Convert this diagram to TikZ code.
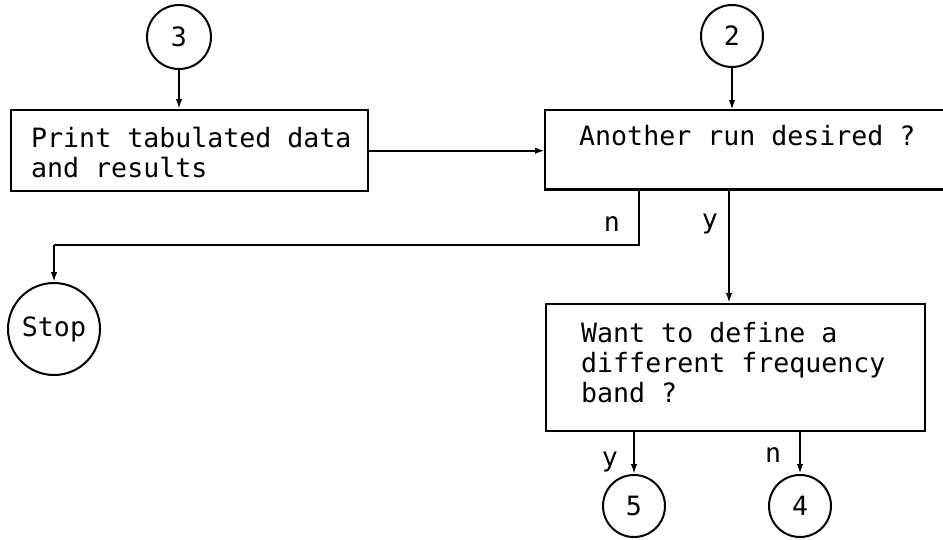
\documentclass[tikz,border=0pt]{standalone}
\usepackage{fontspec}
\newfontfamily\flowfont{DejaVu Sans Mono}
\usetikzlibrary{arrows.meta,calc}

% monospaced text; spaces are one full character cell wide
\newcommand\flowtext{\flowfont\fontsize{26.6}{30}\selectfont}
\newcommand\fullspaces{\spaceskip=16.01pt\relax\xspaceskip=16.01pt\relax}

\tikzset{
  flowfont/.style={font=\flowtext},
  flowline/.style={line width=2pt, -{Latex[length=10pt,width=6.5pt]}},
  plainline/.style={line width=2pt},
  boxline/.style={line width=2.4pt},
  procbox/.style={draw, line width=2.4pt, rectangle, inner sep=0pt, anchor=north west},
  openbox/.style={rectangle, inner sep=0pt, anchor=north west},
  connector/.style={draw, circle, line width=2pt, inner sep=0pt, flowfont},
  boxtext/.style={anchor=base west, inner sep=0pt, align=left, flowfont},
  branch/.style={inner sep=0pt, flowfont}
}

\begin{document}
\begin{tikzpicture}[x=1pt, y=-1pt]
  \useasboundingbox (0,0) rectangle (943,539);

  % off-page connectors and terminal
  \node[connector, minimum size=64pt] (c3) at (179,37) {3};
  \node[connector, minimum size=62pt] (c2) at (732,36) {2};
  \node[connector, minimum size=92pt] (stop) at (54,329) {Stop};
  \node[connector, minimum size=62pt] (c5) at (634,506) {5};
  \node[connector, minimum size=62pt] (c4) at (800,506) {4};

  % process and decision boxes
  \node[procbox, minimum width=357pt, minimum height=81pt] (print) at (10,109) {};
  \node[openbox, minimum width=400pt, minimum height=79pt] (again) at (545,110) {};
  \draw[boxline] (again.north east) -- (again.north west) -- (again.south west) -- (again.south east);
  \node[procbox, minimum width=379pt, minimum height=127pt] (band) at (545,303) {};

  % box texts (top-aligned paragraphs, lines broken by hand)
  \node[boxtext, text width=360pt] (printtxt) at (31,147) {\fullspaces Print tabulated data\\and results};
  \node[boxtext, text width=360pt] (againtxt) at (579,145) {\fullspaces Another run desired ?};
  \node[boxtext, text width=360pt] (bandtxt) at (581,342) {\fullspaces Want to define a\\different frequency\\band ?};

  % branch labels
  \node[branch] (nlab) at (612,224) {n};
  \node[branch] (ylab) at (710,224) {y};
  \node[branch] (y5lab) at (610,462) {y};
  \node[branch] (n4lab) at (773,455) {n};

  % flow
  \draw[flowline] (c3.south) -- (c3.south |- print.north);
  \draw[flowline] (c2.south) -- (c2.south |- again.north);
  \draw[flowline] (print.east) -- (print.east -| again.west);

  \coordinate (nbend) at (639,245);
  \draw[plainline] (nbend |- again.south) -- (nbend) -- (nbend -| stop.north);
  \draw[flowline] (nbend -| stop.north) -- (stop.north);

  \draw[flowline] (729,189) coordinate (yout) -- (yout |- band.north);
  \draw[flowline] (c5.north |- band.south) -- (c5.north);
  \draw[flowline] (c4.north |- band.south) -- (c4.north);
\end{tikzpicture}
\end{document}
